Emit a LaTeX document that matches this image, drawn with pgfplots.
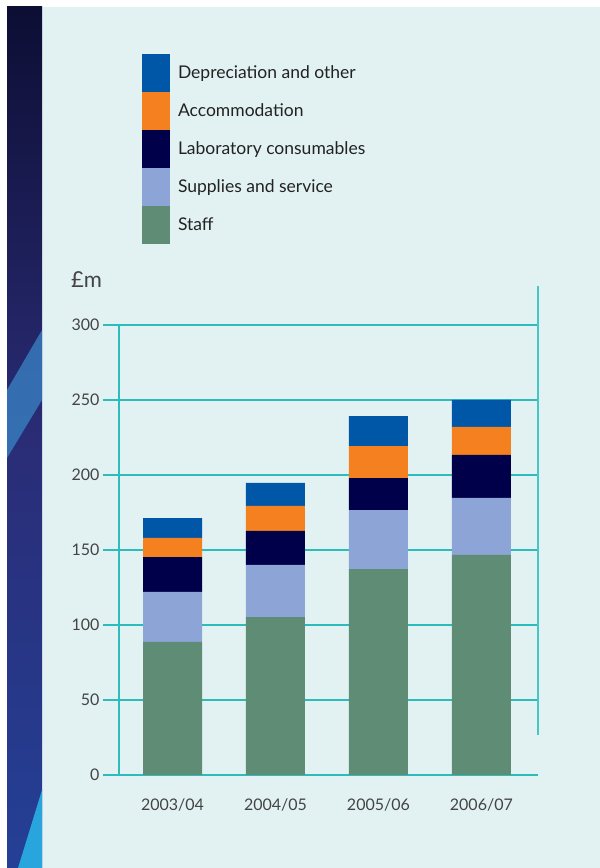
\documentclass[border=0pt]{standalone}
\usepackage{pgfplots}
\pgfplotsset{compat=1.18}
\usepackage{fontspec}
\setmainfont{Lato}
\definecolor{bgc}{HTML}{E2F2F2}
\definecolor{gridc}{HTML}{2CBCBC}
\definecolor{rlinec}{HTML}{48C6C6}
\definecolor{deprc}{HTML}{0057A8}
\definecolor{accomc}{HTML}{F58020}
\definecolor{labc}{HTML}{00004A}
\definecolor{supc}{HTML}{8DA4D6}
\definecolor{staffc}{HTML}{5E8C74}
\definecolor{txtc}{HTML}{222222}
\definecolor{tickc}{HTML}{444444}
\definecolor{stripA}{HTML}{0D0E34}
\definecolor{stripB}{HTML}{2A2C76}
\definecolor{stripC}{HTML}{244096}
\definecolor{streakA}{HTML}{3A8CCD}
\definecolor{streakB}{HTML}{28A5DC}
\begin{document}
\begin{tikzpicture}[x=1pt,y=1pt]
\fill[white] (0,0) rectangle (600,868);
\fill[bgc] (7,0) rectangle (600,861);
% decorative left strip
\shade[top color=stripA, bottom color=stripC, middle color=stripB] (7,0) rectangle (42,861);
\fill[streakA, opacity=0.7] (7,478) -- (42,538) -- (42,468) -- (7,410) -- cycle;
\fill[streakB] (18,0) -- (42,78) -- (42,0) -- cycle;
\begin{axis}[
  at={(119pt,93pt)}, anchor=south west,
  scale only axis, width=419pt, height=450pt,
  xmin=-0.52, xmax=3.55, ymin=0, ymax=300,
  ybar stacked, bar width=59pt,
  axis x line*=bottom, axis y line*=left,
  axis line style={-, draw=gridc, line width=1.3pt},
  ymajorgrids, major grid style={draw=gridc, line width=1.3pt},
  ytick={0,50,...,300},
  ytick style={draw=gridc, line width=1.3pt},
  tick align=outside, major tick length=16pt,
  xtick={0,1,2,3},
  xticklabels={2003/04,2004/05,2005/06,2006/07},
  xtick style={draw=none},
  /pgf/number format/assume math mode=true,
  tick label style={font=\fontsize{16}{19}\selectfont, text=tickc},
  x tick label style={yshift=-4pt},
  reverse legend,
  legend image code/.code={\fill[#1] (0pt,-19pt) rectangle (28pt,19pt);},
  legend style={at={(0.0549,1.6022)}, anchor=north west, draw=none, fill=none,
    inner sep=0pt, outer sep=0pt, row sep=0pt,
    font=\fontsize{17.5}{20}\selectfont, text=txtc,
    nodes={inner sep=0pt, outer sep=0pt},
    /tikz/every odd column/.append style={column sep=8pt}},
  legend cell align=left,
]
\addplot[fill=staffc, draw=none] coordinates {(0,88.7) (1,105.3) (2,137.3) (3,146.7)};
\addplot[fill=supc, draw=none] coordinates {(0,33.3) (1,34.7) (2,39.3) (3,38.0)};
\addplot[fill=labc, draw=none] coordinates {(0,23.3) (1,22.7) (2,21.3) (3,28.7)};
\addplot[fill=accomc, draw=none] coordinates {(0,12.7) (1,16.7) (2,21.3) (3,18.7)};
\addplot[fill=deprc, draw=none] coordinates {(0,13.3) (1,15.3) (2,20.0) (3,18.0)};
\legend{Staff, Supplies and service, Laboratory consumables, Accommodation, Depreciation and other}
\end{axis}
\draw[rlinec, line width=2pt] (538,582) -- (538,133);
\node[anchor=west, font=\fontsize{22}{26}\selectfont, text=tickc, inner sep=0pt] at (71,588) {£m};
\end{tikzpicture}
\end{document}
